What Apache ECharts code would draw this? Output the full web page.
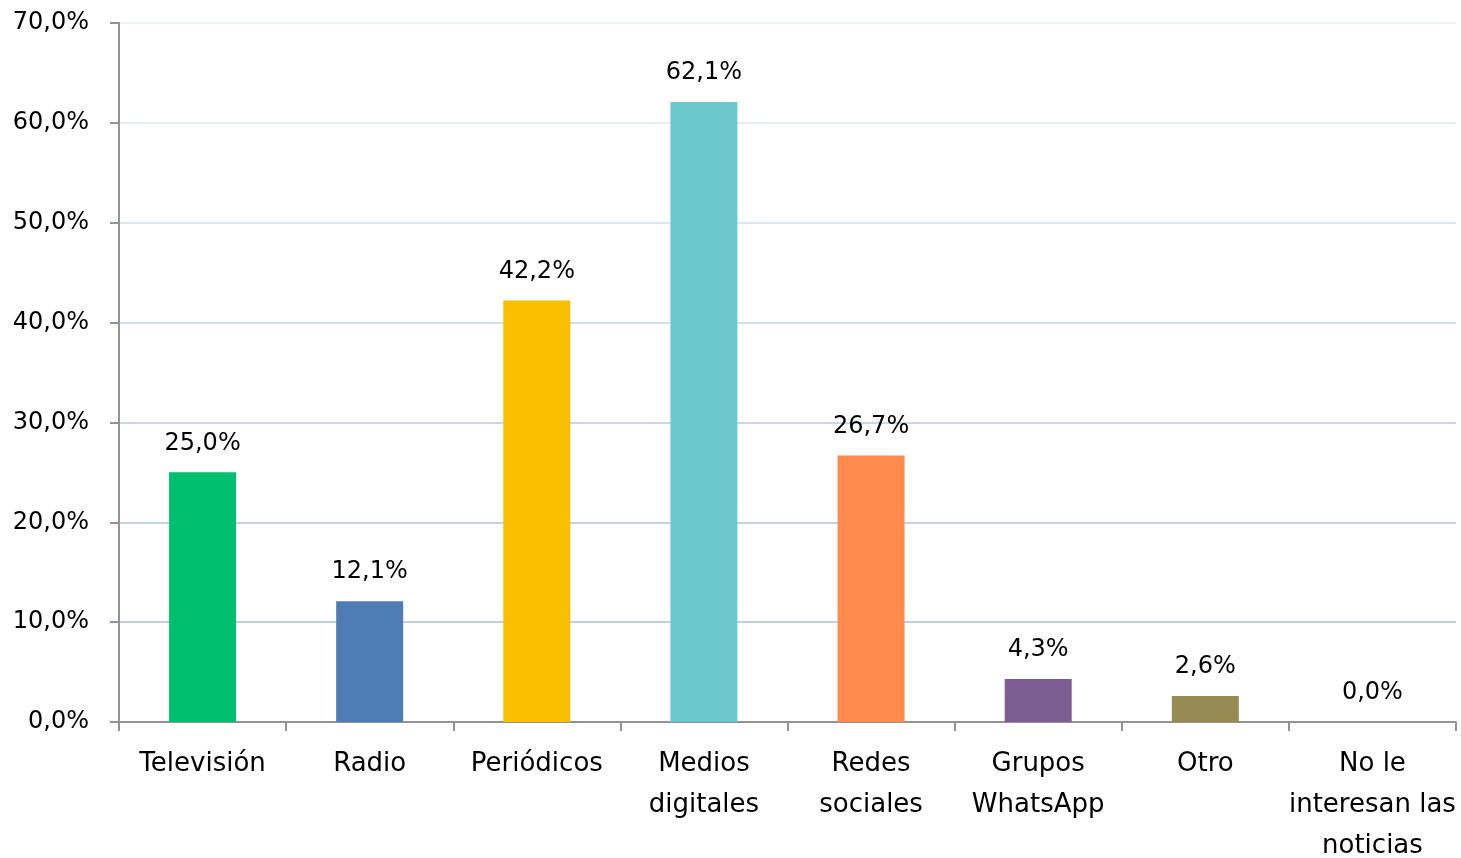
<!DOCTYPE html>
<html>
<head>
<meta charset="utf-8">
<script src="https://cdn.jsdelivr.net/npm/echarts@6/dist/echarts.min.js"></script>
<style>
  html, body { margin: 0; padding: 0; background: #fff; }
  #chart { width: 1461px; height: 858px; }
</style>
</head>
<body>
<div id="chart"></div>
<script>
// categorías y valores (%)
const categories = ['Televisión', 'Radio', 'Periódicos', 'Medios\ndigitales', 'Redes\nsociales', 'Grupos\nWhatsApp', 'Otro', 'No le\ninteresan las\nnoticias'];
const values = [25.0, 12.1, 42.2, 62.1, 26.7, 4.3, 2.6, 0.0];
const colors = ['#00BF6F', '#507CB6', '#F9BE00', '#6BC8CD', '#FF8B4F', '#7D5E92', '#968C53', '#968C53'];
// líneas de la cuadrícula, de 0% a 70% (más claras arriba)
const gridColors = ['#bfcfe6', '#bfcfe6', '#c3d2e8', '#cad7ea', '#d4deee', '#dee5f1', '#e7ecf5', '#eff2f8'];

const FONT = 'DejaVu Sans, Verdana, sans-serif';
const pct = v => v.toFixed(1).replace('.', ',') + '%';

const chart = echarts.init(document.getElementById('chart'));

chart.setOption({
    animation: false,
    grid: { left: 119, right: 5, top: 23, bottom: 136, outerBoundsMode: 'none' },
    xAxis: {
        type: 'category',
        data: categories,
        axisLine: { lineStyle: { color: '#939393', width: 2 } },
        axisTick: { show: true, length: 9, lineStyle: { color: '#939393', width: 2 } },
        axisLabel: {
            interval: 0,
            margin: 22,
            fontFamily: FONT,
            fontSize: 26,
            lineHeight: 41,
            color: '#000'
        }
    },
    yAxis: {
        type: 'value',
        min: 0,
        max: 70,
        interval: 10,
        axisLine: { show: true, lineStyle: { color: '#939393', width: 2 } },
        axisTick: { show: true, length: 9, lineStyle: { color: '#939393', width: 2 } },
        splitLine: { lineStyle: { color: gridColors, width: 2 } },
        axisLabel: {
            margin: 30,
            fontFamily: FONT,
            fontSize: 24,
            color: '#000',
            formatter: pct
        }
    },
    series: [{
        type: 'bar',
        barWidth: 67,
        data: values.map((v, i) => ({ value: v, itemStyle: { color: colors[i] } })),
        label: {
            show: true,
            position: 'top',
            distance: 17,
            fontFamily: FONT,
            fontSize: 24,
            color: '#000',
            formatter: p => pct(p.value)
        }
    }]
});
</script>
</body>
</html>
